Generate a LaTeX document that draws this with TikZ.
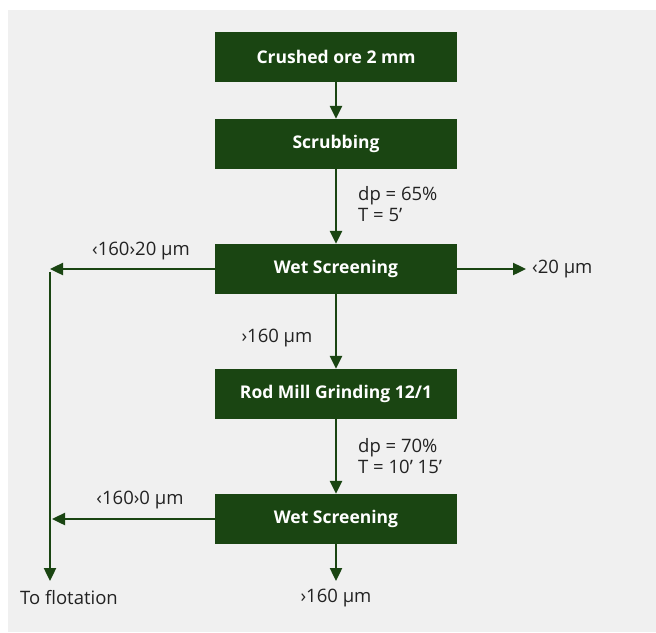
\documentclass[tikz,border=0pt]{standalone}
\usepackage{fontspec}
\setmainfont{Open Sans}
\usetikzlibrary{arrows.meta, positioning}
\definecolor{oregreen}{HTML}{1A4512}
\definecolor{panelgray}{HTML}{F0F0F0}
\definecolor{labeltext}{HTML}{222222}
\tikzset{
	stage/.style={fill=oregreen, text=white, font=\fontsize{17.5}{20}\selectfont\bfseries, minimum width=242pt, minimum height=50pt, inner sep=0pt},
	flow/.style={draw=oregreen, line width=2.4pt, -{Triangle[length=13pt,width=12pt]}},
	note/.style={text=labeltext, font=\fontsize{18.5}{21.5}\selectfont, inner sep=0pt}
}

\begin{document}
\begin{tikzpicture}[x=1pt, y=-1pt]
		\useasboundingbox (0,0) rectangle (656,632);
		\fill[panelgray] (8,10) rectangle (656,632);
		\node[stage](ore) at (336,57) {Crushed ore 2 mm};
		\node[stage](scrub) at (336,144) {Scrubbing};
		\node[stage](wet1) at (336,269) {Wet Screening};
		\node[stage](rod) at (336,394) {Rod Mill Grinding 12/1};
		\node[stage](wet2) at (336,519) {Wet Screening};
		\coordinate (left1) at (50,269);
		\coordinate (left2) at (52,519);
		\coordinate (top) at (50,272);
		\coordinate (flot) at (50,581);
		\coordinate (fines) at (526,269);
		\coordinate (coarse) at (336,581);
		\draw [flow] (ore) -- (scrub);
		\draw [flow] (scrub) -- (wet1);
		\draw [flow] (wet1) -- (rod);
		\draw [flow] (rod) -- (wet2);
		\draw [flow] (wet2) -- (coarse);
		\draw [flow] (wet1) -- (left1);
		\draw [flow] (wet1) -- (fines);
		\draw [flow] (wet2) -- (left2);
		\draw [flow] (top) -- (flot);
		% labels
		\node[note, align=left, anchor=west](scrubcond) at (358,204) {dp = 65\%\\T = 5’};
		\node[note, align=left, anchor=west](rodcond) at (358,456) {dp = 70\%\\T = 10’ 15’};
		\node[note](mid1) at (141,251) {‹160›20 µm};
		\node[note](mid2) at (140,500) {‹160›0 µm};
		\node[note, anchor=west](slime) at (532,269) {‹20 µm};
		\node[note](oversize) at (277,338) {›160 µm};
		\node[note](toflot) at (69,598) {To flotation};
		\node[note](tail) at (336,598) {›160 µm};
	\end{tikzpicture}
\end{document}
